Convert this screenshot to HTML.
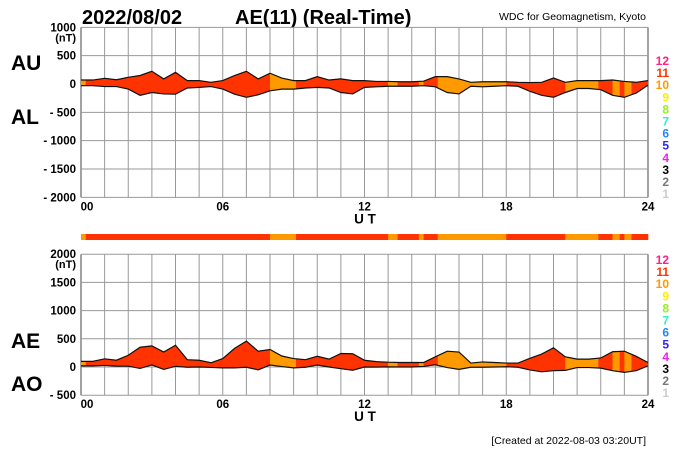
<!DOCTYPE html>
<html><head><meta charset="utf-8"><style>
body{margin:0;background:#fff;}
svg{display:block;font-family:"Liberation Sans",sans-serif;font-weight:bold;}
</style></head><body>
<svg id="c" width="700" height="450" viewBox="0 0 700 450">
<text x="82" y="24" font-size="20">2022/08/02</text>
<text x="235" y="24" font-size="20">AE(11) (Real-Time)</text>
<text x="646" y="20" font-size="10.5" font-weight="normal" text-anchor="end">WDC for Geomagnetism, Kyoto</text>
<text x="11" y="70" font-size="21">AU</text>
<text x="11" y="124" font-size="21">AL</text>
<text x="11" y="348" font-size="21">AE</text>
<text x="11" y="391" font-size="21">AO</text>
<text x="646" y="444" font-size="10.5" font-weight="normal" text-anchor="end">[Created at 2022-08-03 03:20UT]</text>
<g id="g"></g>
</svg>
<script>
const hours = [0,0.5,1,1.5,2,2.5,3,3.5,4,4.5,5,5.5,6,6.5,7,7.5,8,8.5,9,9.5,10,10.5,11,11.5,12,12.5,13,13.5,14,14.5,15,15.5,16,16.5,17,17.5,18,18.5,19,19.5,20,20.5,21,21.5,22,22.5,23,23.5,24];
const auValues = [70,70,100,75,118,150,225,90,205,60,60,30,60,150,225,90,190,105,60,60,130,70,90,60,60,45,45,40,40,50,130,130,90,30,40,40,40,30,25,30,105,30,60,60,60,70,45,30,60];
const alValues = [-30,-30,-45,-45,-90,-200,-150,-175,-180,-70,-60,-45,-90,-180,-235,-190,-120,-90,-90,-70,-60,-70,-150,-175,-60,-50,-40,-40,-40,-30,-50,-150,-175,-40,-50,-40,-30,-40,-130,-200,-235,-150,-80,-80,-100,-200,-235,-160,-20];
const segStart = [0,0.2,8.0,9.1,13.0,13.4,14.3,14.5,15.1,18.0,20.5,21.9,22.5,22.8,23.0,23.3];
const segEnd   = [0.2,8.0,9.1,13.0,13.4,14.3,14.5,15.1,18.0,20.5,21.9,22.5,22.8,23.0,23.3,24];
const segLevel = [10,11,10,11,10,11,10,11,10,11,10,11,10,11,10,11];
const topTicks = [1000,500,0,-500,-1000,-1500,-2000];
const botTicks = [2000,1500,1000,500,0,-500];
const xTickLabels = ["00","06","12","18","24"];
const levelLabels = [12,11,10,9,8,7,6,5,4,3,2,1];
const levelColors = ["#ff2288","#ff3300","#ff9900","#ffee00","#99ee22","#33eecc","#2288ff","#3322ff","#ee22ee","#000000","#777777","#cccccc"];

const NS="http://www.w3.org/2000/svg";
const g=document.getElementById('g');
const X0=81,X1=648;
const x=h=>X0+(X1-X0)*h/24;
const yTop=v=>84-(v)*28.33/500;
const yBot=v=>367-(v)*28.2/500;
function el(t,a,p){const e=document.createElementNS(NS,t);for(const k in a)e.setAttribute(k,a[k]);(p||g).appendChild(e);return e;}
const colorOf=l=>levelColors[levelLabels.indexOf(l)];
const aeValues=auValues.map((u,i)=>u-alValues[i]);
const aoValues=auValues.map((u,i)=>(u+alValues[i])/2);

function panel(name,yf,ticks,upper,lower,legendY0){
  const yt=yf(ticks[0]), yb=yf(ticks[ticks.length-1]);
  const grid=el('g',{});
  
  
  for(let h=0;h<=24;h++){
    const l=el('line',{x1:x(h),x2:x(h),y1:yt,y2:yb,stroke:(h==0||h==24)?'#444':'#999','stroke-width':1},grid);
    
    
  }
  ticks.forEach((v,i)=>{
    const l=el('line',{x1:X0,x2:X1,y1:yf(v),y2:yf(v),stroke:'#999','stroke-width':1},grid);
    
    
    const t=el('text',{x:76,y:yf(v)+4,'font-size':11.5,'text-anchor':'end'});
    t.textContent=(v<0?'- ':'')+Math.abs(v);
    
    
  });
  const nt=el('text',{x:76,y:yt+14,'font-size':11,'text-anchor':'end'});nt.textContent='(nT)';
  
  
  // area
  let pts=hours.map((h,i)=>x(h)+','+yf(upper[i]));
  pts=pts.concat(hours.map((h,i)=>x(h)+','+yf(lower[i])).reverse());
  const poly=pts.join(' ');
  segStart.forEach((s,i)=>{
    const cid=name+'clip'+i;
    const cp=el('clipPath',{id:cid});
    el('rect',{x:x(s),y:0,width:x(segEnd[i])-x(s)+0.3,height:450},cp);
    const p=el('polygon',{points:poly,fill:colorOf(segLevel[i]),'clip-path':'url(#'+cid+')'});
    
    
  });
  [upper,lower].forEach((arr,k)=>{
    const pl=el('polyline',{points:hours.map((h,i)=>x(h)+','+yf(arr[i])).join(' '),fill:'none',stroke:'#111','stroke-width':1.2});
    
    
  });
  xTickLabels.forEach((s,i)=>{
    const t=el('text',{x:x(i*6)+(i==0?6:0),y:yb+13,'font-size':11.5,'text-anchor':'middle'});
    t.textContent=s;
    
    
  });
  const ut=el('text',{x:365,y:yb+26,'font-size':13.5,'text-anchor':'middle'});ut.textContent='U T';
  
  
  levelLabels.forEach((l,i)=>{
    const t=el('text',{x:669,y:legendY0+i*12.1,'font-size':12,'text-anchor':'end',fill:levelColors[i]});
    t.textContent=l;
    
    
  });
}
panel('top',yTop,topTicks,auValues,alValues,65);
panel('bottom',yBot,botTicks,aeValues,aoValues,264);
segStart.forEach((s,i)=>{
  const r=el('rect',{x:x(s),y:234,width:x(segEnd[i])-x(s)+0.3,height:6,fill:colorOf(segLevel[i])});
  
  
});
</script>
</body></html>
